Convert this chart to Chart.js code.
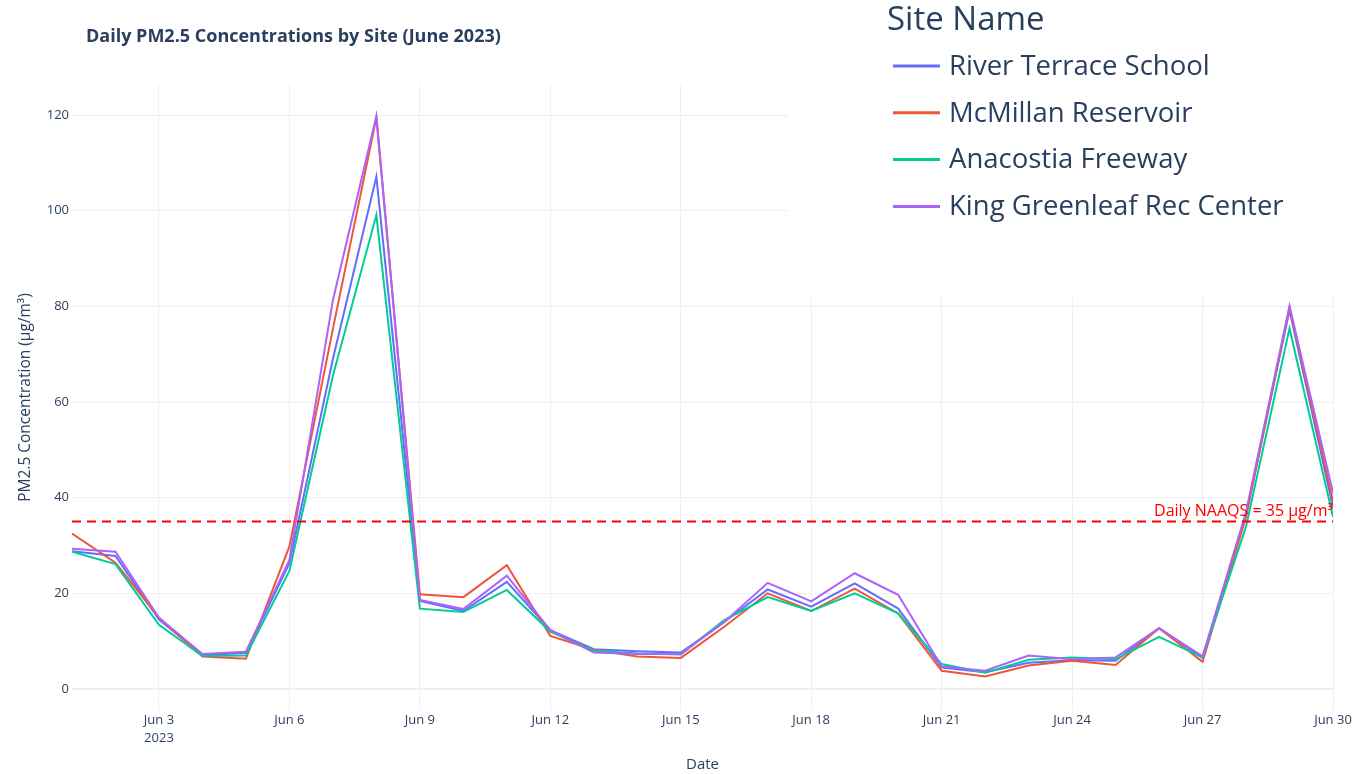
<!DOCTYPE html>
<html>
<head>
<meta charset="utf-8">
<script src="https://cdn.jsdelivr.net/npm/chart.js@4.4.0/dist/chart.umd.min.js"></script>
<style>
  html, body { margin: 0; padding: 0; background: #fff; }
</style>
</head>
<body>
<canvas id="chart" width="1370" height="774"></canvas>
<script>
// June 2023, day of month
const days = [1, 2, 3, 4, 5, 6, 7, 8, 9, 10, 11, 12, 13, 14, 15, 16, 17, 18, 19, 20, 21, 22, 23, 24, 25, 26, 27, 28, 29, 30];

const siteNames = ["River Terrace School", "McMillan Reservoir", "Anacostia Freeway", "King Greenleaf Rec Center"];
const siteColors = ["#636efa", "#EF553B", "#00cc96", "#ab63fa"];

const riverTerrace = [28.8, 27.8, 14.5, 7.1, 7.5, 26.3, 69.0, 107.1, 18.4, 16.3, 22.4, 12.3, 8.3, 7.9, 7.6, 14.0, 20.8, 17.2, 22.1, 16.8, 4.5, 3.5, 5.5, 6.0, 5.9, 12.7, 6.5, 36.5, 79.2, 38.0];
const mcMillan = [32.5, 26.4, 14.9, 6.8, 6.3, 29.8, 75.3, 119.5, 19.8, 19.2, 25.9, 11.1, 8.2, 6.8, 6.5, 13.0, 20.0, 16.3, 21.0, 15.8, 3.8, 2.6, 4.9, 5.9, 5.0, 12.7, 5.7, 36.0, 79.8, 39.2];
const anacostia = [28.7, 26.1, 13.4, 6.9, 7.0, 24.7, 65.5, 99.1, 16.8, 16.1, 20.7, 12.0, 8.0, 7.4, 7.2, 14.4, 19.2, 16.3, 20.0, 15.8, 5.2, 3.4, 6.1, 6.6, 6.2, 10.9, 6.6, 34.0, 75.4, 36.0];
const kingGreenleaf = [29.3, 28.7, 14.9, 7.3, 7.8, 27.0, 81.3, 119.8, 18.6, 16.7, 23.7, 12.3, 7.6, 7.3, 7.3, 14.0, 22.2, 18.3, 24.2, 19.7, 4.7, 3.8, 7.0, 6.2, 6.6, 12.7, 6.8, 37.0, 80.1, 41.0];

const yTicks = [0, 20, 40, 60, 80, 100, 120];
const naaqsLimit = 35;
const naaqsLabel = "Daily NAAQS = 35 µg/m³";

const seriesList = [riverTerrace, mcMillan, anacostia, kingGreenleaf];
const textColor = "#2a3f5f";
const gridColor = "#ebf0f8";

const datasets = seriesList.map((vals, i) => ({
  label: siteNames[i],
  data: days.map((d, j) => ({ x: d, y: vals[j] })),
  borderColor: siteColors[i],
  backgroundColor: siteColors[i],
  borderWidth: 2,
  pointRadius: 0,
  tension: 0,
  order: seriesList.length - i, // later traces on top, like plotly
}));

// threshold line
datasets.push({
  label: "naaqs",
  data: [{ x: days[0], y: naaqsLimit }, { x: days[days.length - 1], y: naaqsLimit }],
  borderColor: "red",
  borderWidth: 2,
  borderDash: [9, 6],
  pointRadius: 0,
  order: 0,
});

const decor = {
  id: "decor",
  beforeDatasetsDraw(chart) {
    // legend background hides the grid behind it
    const ctx = chart.ctx;
    ctx.save();
    ctx.fillStyle = "#fff";
    ctx.fillRect(788, 0, 552, 297);
    ctx.restore();
  },
  afterDraw(chart) {
    const ctx = chart.ctx;
    const xs = chart.scales.x, ys = chart.scales.y;
    ctx.save();

    // chart title
    ctx.fillStyle = textColor;
    ctx.font = "bold 18px 'Open Sans'";
    ctx.textAlign = "left";
    ctx.textBaseline = "middle";
    ctx.fillText("Daily PM2.5 Concentrations by Site (June 2023)", 86, 37);

    // threshold annotation
    ctx.fillStyle = "red";
    ctx.font = "16px 'Open Sans'";
    ctx.textAlign = "right";
    ctx.textBaseline = "alphabetic";
    ctx.fillText(naaqsLabel, xs.getPixelForValue(days[days.length - 1]), ys.getPixelForValue(naaqsLimit) - 6);

    // legend
    ctx.fillStyle = textColor;
    ctx.textAlign = "left";
    ctx.textBaseline = "middle";
    ctx.font = "33px 'Open Sans'";
    ctx.fillText("Site Name", 887, 21);
    ctx.font = "27.5px 'Open Sans'";
    siteNames.forEach((name, i) => {
      const cy = 66 + i * 46.8;
      ctx.strokeStyle = siteColors[i];
      ctx.lineWidth = 3;
      ctx.beginPath();
      ctx.moveTo(893, cy);
      ctx.lineTo(940, cy);
      ctx.stroke();
      ctx.fillStyle = textColor;
      ctx.fillText(name, 949, cy + 1);
    });
    ctx.restore();
  }
};

new Chart(document.getElementById("chart"), {
  type: "line",
  data: { datasets },
  options: {
    responsive: false,
    animation: false,
    layout: { padding: { top: 85, right: 37, left: 0, bottom: 0 } },
    plugins: {
      legend: { display: false },
      title: { display: false },
      tooltip: { enabled: false },
    },
    scales: {
      x: {
        type: "linear",
        min: days[0],
        max: days[days.length - 1],
        afterFit: (s) => { s.height = 64; },
        border: { display: false },
        grid: { color: gridColor, drawTicks: false },
        ticks: {
          stepSize: 3,
          includeBounds: false,
          maxRotation: 0,
          autoSkip: false,
          padding: 1,
          color: textColor,
          font: { family: "'Open Sans'", size: 13, lineHeight: 1.4 },
          callback: (v) => (v === 3 ? ["Jun 3", "2023"] : "Jun " + v),
        },
        title: {
          display: true,
          text: "Date",
          color: textColor,
          padding: 0,
          font: { family: "'Open Sans'", size: 15 },
        },
      },
      y: {
        min: -4.4,
        max: 126.3,
        afterFit: (s) => { s.width = 72; },
        afterBuildTicks: (s) => { s.ticks = yTicks.map((v) => ({ value: v })); },
        border: { display: false },
        grid: {
          color: gridColor,
          drawTicks: false,
          lineWidth: (c) => (c.tick && c.tick.value === 0 ? 2 : 1),
        },
        ticks: {
          padding: 3,
          color: textColor,
          font: { family: "'Open Sans'", size: 13 },
        },
        title: {
          display: true,
          text: "PM2.5 Concentration (µg/m³)",
          color: textColor,
          padding: { top: 16 },
          font: { family: "'Open Sans'", size: 15.5 },
        },
      },
    },
  },
  plugins: [decor],
});
</script>
</body>
</html>
